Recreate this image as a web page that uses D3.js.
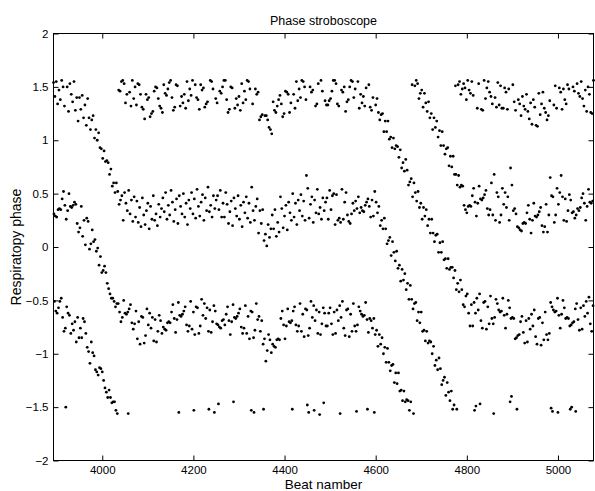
<!DOCTYPE html>
<html>
<head>
<meta charset="utf-8">
<script src="https://cdn.jsdelivr.net/npm/d3@7"></script>
<style>
  body { margin: 0; background: #fff; }
  text { font-family: "Liberation Sans", Arial, Helvetica, sans-serif; fill: #000; }
</style>
</head>
<body>
<svg id="chart" width="595" height="491"></svg>
<script>
// beats are read 3 apart on each stroboscope line: A = 3893, 3896, ...; B = 3894, ...; C = 3895, ...
var firstBeat = 3893;
var beatStep = 3;

var phaseA = [
  1.54, 1.41, 1.55, 1.34, 1.47, 1.38, 1.56, 1.50, 1.32, -1.50,
  1.50, 1.27, 1.53, 1.43, 1.36, 1.55, 1.28, 1.40, 1.18, 1.40,
  1.29, 1.42, 1.21, 1.33, 1.14, 1.39, 1.21, 1.10, 1.19, 1.23,
  1.02, 1.10, 1.00, 1.07, 0.93, 0.92, 0.83, 0.90, 0.80, 0.81,
  0.79, 0.68, 0.73, 0.57, 0.60, 0.51, 0.60, 0.52, 0.40, 0.44,
  0.48, 0.25, 0.51, 0.41, 0.34, 0.53, 0.31, 0.44, 0.24, 0.47,
  0.28, 0.43, 0.23, 0.37, 0.19, 0.46, 0.30, 0.21, 0.34, 0.41,
  0.17, 0.38, 0.26, 0.48, 0.25, 0.31, 0.20, 0.40, 0.28, 0.36,
  0.46, 0.33, 0.51, 0.26, 0.39, 0.30, 0.53, 0.42, 0.24, 0.35,
  0.45, 0.22, 0.48, 0.38, 0.31, 0.50, 0.28, 0.41, 0.21, 0.44,
  0.36, 0.51, 0.31, 0.45, 0.27, 0.54, 0.38, 0.29, 0.42, 0.49,
  0.25, 0.46, 0.34, 0.56, 0.33, 0.39, 0.28, 0.48, 0.36, 0.44,
  0.48, 0.35, 0.53, 0.28, 0.41, 0.28, 0.51, 0.40, 0.22, 0.33,
  0.43, 0.20, 0.46, 0.36, 0.29, 0.48, 0.26, 0.39, 0.19, 0.42,
  0.32, 0.47, 0.27, 0.41, 0.23, 0.56, 0.34, 0.25, 0.38, 0.45,
  0.13, 0.34, 0.22, 0.35, 0.06, 0.12, 0.01, 0.21, 0.09, 0.17,
  0.30, 0.17, 0.35, 0.10, 0.23, 0.14, 0.47, 0.36, 0.18, 0.29,
  0.39, 0.16, 0.42, 0.32, 0.25, 0.50, 0.28, 0.41, 0.21, 0.44,
  0.34, 0.49, 0.29, 0.43, 0.25, 0.67, 0.55, 0.27, 0.40, 0.47,
  0.23, 0.44, 0.32, 0.54, 0.31, 0.37, 0.26, 0.46, 0.34, 0.42,
  0.46, 0.26, 0.53, 0.35, 0.48, 0.50, 0.21, 0.49, 0.25, 0.27,
  0.23, 0.54, 0.26, 0.42, 0.51, 0.30, 0.24, 0.22, 0.31, 0.41,
  0.34, 0.43, 0.36, 0.47, 0.32, 0.37, 0.34, 0.33, 0.39, 0.42,
  0.45, 0.38, 0.28, 0.44, 0.29, 0.52,
  0.42, 0.32, 0.38, 0.20, 0.25, 0.17, 0.27, 0.17, 0.03, 0.06,
  0.09, -0.08, 0.05, -0.05, -0.13, -0.04, -0.20, -0.17, -0.32, -0.21,
  -0.31, -0.25, -0.40, -0.34, -0.49, -0.36, -0.49, -0.58, -0.53, -0.52,
  -0.69, -0.61, -0.71, -0.61, -0.79, -0.78, -0.88, -0.79, -0.90, -0.88,
  -0.89, -1.00, -0.93, -1.11, -1.06, -1.15, -1.04, -1.14, -1.29, -1.25,
  -1.22, -1.39, -1.27, -1.36, -1.44, -1.35, -1.52, -1.48, 1.51, -1.52,
  1.52, 1.55, 1.43, 1.48,
  1.53, 1.49, 1.38, 1.56, 1.47, 1.44, 1.55, 1.42, -1.53, -1.49,
  1.30, 1.53, -1.47, 1.29, 1.28, 1.56, 1.39, 1.49, 1.55, 1.45,
  1.41, 1.34, -1.56, 1.40, 1.31, 1.54, 1.33, 1.51, 1.30, 1.30,
  1.49, 1.45, 1.29, 1.48, -1.45, -1.40, 1.52, 1.36, 1.28, -1.52,
  1.38, 1.34, 1.23, 1.41, 1.32, 1.29, 1.43, 1.27, 1.20, 1.35,
  1.15, 1.38, 1.31, 1.14, 1.13, 1.44, 1.24, 1.34, 1.45, 1.30,
  1.26, 1.19, 1.23, 1.37, -1.51, -1.54, 1.33, 1.51, 1.30, -1.55,
  1.49, 1.45, 1.29, 1.48, 1.38, 1.34, 1.52, 1.48, -1.52, -1.50,
  1.50, 1.46, -1.54, 1.53, 1.44, 1.41, 1.55, 1.39, 1.32, 1.47,
  1.27, 1.50, 1.43, 1.26, 1.25, 1.56
];

var phaseB = [
  0.31, 0.29, 0.28, 0.35, 0.36, 0.35, 0.45, 0.52, 0.39, 0.26,
  0.34, 0.50, 0.38, 0.37, 0.39, 0.42, 0.40, 0.22, 0.14, 0.18,
  0.38, 0.10, 0.25, 0.02, 0.27, 0.24, -0.02, 0.03, 0.16, 0.05,
  0.07, -0.04, -0.01, -0.17, -0.09, -0.24, -0.22, -0.18, -0.24, -0.34,
  -0.39, -0.44, -0.48, -0.48, -0.51, -0.56, -0.53, -0.53, -0.61, -0.70,
  -0.66, -0.50, -0.62, -0.63, -0.61, -0.58, -0.54, -0.71, -0.77, -0.72,
  -0.60, -0.86, -0.70, -0.91, -0.65, -0.66, -0.90, -0.83, -0.58, -0.73,
  -0.62, -0.76, -0.66, -0.88, -0.68, -0.89, -0.79, -0.64, -0.69, -0.81,
  -0.75, -0.77, -0.78, -0.71, -0.70, -0.71, -0.61, -0.54, -0.67, -0.80,
  -0.68, -0.52, -0.64, -0.65, -0.63, -0.60, -0.56, -0.73, -0.79, -0.74,
  -0.51, -0.77, -0.61, -0.82, -0.56, -0.57, -0.81, -0.74, -0.49, -0.64,
  -0.53, -0.67, -0.57, -0.79, -0.59, -0.80, -0.70, -0.55, -0.60, -0.72,
  -0.73, -0.75, -0.76, -0.69, -0.68, -0.73, -0.63, -0.56, -0.69, -0.82,
  -0.70, -0.54, -0.66, -0.67, -0.65, -0.62, -0.58, -0.75, -0.81, -0.76,
  -0.55, -0.81, -0.65, -0.86, -0.60, -0.61, -0.85, -0.78, -0.53, -0.68,
  -0.65, -0.79, -0.69, -0.91, -0.86, -1.07, -0.97, -0.82, -0.87, -0.99,
  -0.91, -0.93, -0.94, -0.87, -0.86, -0.87, -0.67, -0.60, -0.73, -0.86,
  -0.74, -0.58, -0.70, -0.71, -0.69, -0.60, -0.56, -0.73, -0.79, -0.74,
  -0.53, -0.79, -0.63, -0.84, -0.58, -0.59, -0.83, -0.76, -0.51, -0.66,
  -0.55, -0.69, -0.59, -0.81, -0.61, -0.82, -0.72, -0.57, -0.62, -0.74,
  -0.74, -0.62, -0.57, -0.72, -0.82, -0.61, -0.81, -0.59, -0.69, -0.55,
  -0.66, -0.51, -0.76, -0.83, -0.59, -0.58, -0.84, -0.63, -0.79, -0.53,
  -0.74, -0.79, -0.73, -0.56, -0.60, -0.63, -0.65, -0.64, -0.52, -0.68,
  -0.80, -0.67, -0.69, -0.76, -0.67, -0.82, -0.78, -0.93, -0.82, -0.91,
  -0.85, -1.00, -0.94, -1.08, -0.95, -1.08, -1.16, -1.11, -1.10, -1.27,
  -1.18, -1.28, -1.18, -1.35, -1.34, -1.44, -1.35, -1.45, -1.43, -1.44,
  -1.53, -1.45, 1.52, -1.56, 1.51, 1.56, 1.53, 1.39, 1.44, 1.47,
  1.31, 1.44, 1.35, 1.27, 1.36, 1.21, 1.25, 1.10, 1.21, 1.12,
  1.18, 1.03, 1.09, 0.95, 1.08, 0.95, 0.87, 0.92, 0.93, 0.76,
  0.85, 0.75, 0.85, 0.68, 0.68, 0.58, 0.67, 0.56, 0.58, 0.57,
  0.39, 0.35, 0.32, 0.38, 0.39, 0.38, 0.48, 0.55, 0.42, 0.29,
  0.41, 0.57, 0.45, 0.44, 0.46, 0.49, 0.53, 0.36, 0.30, 0.35,
  0.60, 0.30, 0.68, 0.25, 0.51, 0.47, 0.23, 0.30, 0.55, 0.40,
  0.51, 0.37, 0.47, 0.25, 0.74, 0.58, 0.34, 0.36, 0.31, 0.19,
  0.18, 0.16, 0.15, 0.22, 0.23, 0.22, 0.32, 0.39, 0.26, 0.13,
  0.25, 0.41, 0.29, 0.28, 0.30, 0.33, 0.37, 0.20, 0.14, 0.19,
  0.40, 0.14, 0.30, 0.65, 0.48, 0.47, 0.23, 0.30, 0.55, 0.40,
  0.51, 0.67, 0.47, 0.25, 0.45, 0.24, 0.34, 0.49, 0.44, 0.32,
  0.33, 0.27, 0.30, 0.36, 0.34, 0.37, 0.46, 0.50, 0.41, 0.25,
  0.38, 0.54, 0.42, 0.41, 0.43
];

var phaseC = [
  -0.51, -0.60, -0.62, -0.57, -0.51, -0.48, -0.66, -0.79, -0.76, -0.56,
  -0.62, -0.64, -0.81, -0.72, -0.78, -0.70, -0.89, -0.66, -0.85, -0.76,
  -0.85, -0.67, -0.70, -0.81, -0.94, -0.98, -1.09, -0.89, -0.99, -1.02,
  -1.15, -1.17, -1.20, -1.13, -1.14, -1.17, -1.25, -1.32, -1.36, -1.41,
  -1.34, -1.41, -1.46, -1.45, -1.45, -1.53, -1.56, 1.47, 1.46, 1.55,
  1.56, 1.53, 1.35, 1.43, -1.56, 1.45, 1.32, 1.56, 1.39, 1.50,
  1.33, 1.53, 1.52, 1.43, 1.31, 1.29, 1.20, 1.43, 1.38, 1.40,
  1.22, 1.25, 1.27, 1.46, 1.50, 1.49, 1.39, 1.32, 1.30, 1.26,
  1.52, 1.44, 1.42, 1.48, 1.54, 1.56, 1.40, 1.28, 1.31, 1.52,
  1.51, -1.55, 1.32, 1.41, 1.35, 1.43, 1.30, 1.55, 1.37, 1.48,
  1.42, 1.56, -1.53, 1.52, 1.40, 1.38, 1.29, 1.52, 1.47, 1.49,
  1.31, 1.34, 1.36, -1.52, 1.56, 1.55, 1.48, -1.55, 1.39, 1.35,
  -1.47, 1.46, 1.44, 1.50, 1.56, 1.56, 1.38, 1.26, 1.29, 1.50,
  1.49, -1.45, 1.30, 1.39, 1.33, 1.41, 1.28, 1.53, 1.35, 1.46,
  1.38, 1.56, 1.55, 1.48, -1.53, 1.34, -1.55, 1.48, 1.43, 1.45,
  1.19, 1.22, 1.24, -1.52, 1.23, 1.23, 1.19, 1.12, 1.10, 1.06,
  1.36, 1.28, 1.26, 1.32, 1.38, 1.42, 1.34, 1.22, 1.25, 1.46,
  1.45, 1.43, 1.26, 1.35, -1.52, 1.43, 1.30, 1.55, 1.37, 1.48,
  1.40, 1.56, 1.55, 1.50, 1.38, -1.48, -1.55, 1.50, 1.45, 1.47,
  -1.53, 1.32, 1.34, 1.53, -1.57, 1.56, 1.46, -1.46, 1.37, 1.33,
  1.33, 1.37, 1.39, 1.46, 1.56, 1.56, 1.53, 1.34, 1.32, -1.56,
  1.47, 1.45, 1.50, 1.27, 1.36, 1.38, 1.50, 1.56, 1.55, 1.40,
  1.48, -1.54, 1.55, 1.30, 1.43, 1.35, 1.41, 1.32, 1.49, -1.52,
  1.52, 1.31, 1.28, 1.40, -1.55, 1.33,
  1.39, 1.26, 1.19, 1.24, 1.25, 1.08, 1.18, 1.08, 1.18, 1.01,
  1.03, 0.93, 1.02, 0.92, 0.95, 0.94, 0.84, 0.91, 0.74, 0.79,
  0.71, 0.82, 0.72, 0.58, 0.61, 0.64, 0.47, 0.60, 0.51, 0.43,
  0.52, 0.37, 0.41, 0.26, 0.37, 0.29, 0.35, 0.20, 0.26, 0.13,
  0.26, 0.13, 0.05, 0.11, 0.12, -0.05, 0.04, -0.05, 0.05, -0.12,
  -0.11, -0.20, -0.11, -0.21, -0.19, -0.19, -0.29, -0.22, -0.40, -0.34,
  -0.42, -0.31, -0.40, -0.54,
  -0.56, -0.46, -0.44, -0.62, -0.74, -0.54, -0.74, -0.52, -0.62, -0.48,
  -0.59, -0.44, -0.69, -0.76, -0.52, -0.51, -0.77, -0.56, -0.72, -0.46,
  -0.67, -0.72, -0.66, -0.49, -0.53, -0.59, -0.61, -0.60, -0.48, -0.64,
  -0.76, -0.63, -0.50, -0.57, -0.67, -0.66, -0.67, -0.86, -0.85, -0.83,
  -0.82, -0.70, -0.65, -0.80, -0.90, -0.69, -0.89, -0.67, -0.77, -0.63,
  -0.74, -0.59, -0.84, -0.91, -0.67, -0.66, -0.92, -0.71, -0.87, -0.61,
  -0.82, -0.87, -0.81, -0.52, -0.56, -0.59, -0.61, -0.60, -0.48, -0.64,
  -0.76, -0.63, -0.50, -0.57, -0.67, -0.66, -0.67, -0.74, -0.73, -0.71,
  -0.70, -0.58, -0.53, -0.68, -0.78, -0.57, -0.77, -0.55, -0.65, -0.51,
  -0.62, -0.47, -0.72, -0.79, -0.55
];

var xTicks = [4000, 4200, 4400, 4600, 4800, 5000];
var yTicks = [-2, -1.5, -1, -0.5, 0, 0.5, 1, 1.5, 2];
var beatRange = [3893, 5078];
var phaseRange = [-2, 2];

var width = 595, height = 491;
var margin = {top: 33.5, right: 1.5, bottom: 30.5, left: 53.5};
var plotW = width - margin.left - margin.right;
var plotH = height - margin.top - margin.bottom;

var svg = d3.select("#chart");
svg.append("rect").attr("width", width).attr("height", height).attr("fill", "#fff");

var x = d3.scaleLinear().domain(beatRange).range([0, plotW]);
var y = d3.scaleLinear().domain(phaseRange).range([plotH, 0]);

var g = svg.append("g").attr("transform", "translate(" + margin.left + "," + margin.top + ")");

// one point per beat, the three lines interleave
var points = [];
[phaseA, phaseB, phaseC].forEach(function(arr, j) {
    arr.forEach(function(v, i) {
        points.push({beat: firstBeat + j + i * beatStep, phase: v});
    });
});

g.selectAll("circle.pt")
    .data(points)
    .enter()
    .append("circle")
    .attr("class", "pt")
    .attr("cx", function(d) { return x(d.beat); })
    .attr("cy", function(d) { return y(d.phase); })
    .attr("r", 1.4)
    .attr("fill", "#000");

// axes, ticks point inwards like matlab
var xAxis = d3.axisBottom(x).tickValues(xTicks).tickFormat(d3.format("d"))
    .tickSizeInner(-5).tickSizeOuter(0).tickPadding(5);
var yAxis = d3.axisLeft(y).tickValues(yTicks).tickFormat(d3.format(""))
    .tickSizeInner(-5).tickSizeOuter(0).tickPadding(5);

var gx = g.append("g").attr("transform", "translate(0," + plotH + ")").call(xAxis);
var gy = g.append("g").call(yAxis);

g.append("g").call(d3.axisTop(x).tickValues(xTicks).tickFormat("").tickSizeInner(-5).tickSizeOuter(0));
g.append("g").attr("transform", "translate(" + plotW + ",0)")
    .call(d3.axisRight(y).tickValues(yTicks).tickFormat("").tickSizeInner(-5).tickSizeOuter(0));

g.selectAll(".domain").remove();
g.selectAll(".tick line").attr("stroke", "#000");
gx.selectAll("text").attr("font-size", 11.5).attr("font-family", "Liberation Sans, Arial, sans-serif");
gy.selectAll("text").attr("font-size", 11.5).attr("font-family", "Liberation Sans, Arial, sans-serif");

g.append("rect")
    .attr("width", plotW).attr("height", plotH)
    .attr("fill", "none").attr("stroke", "#000").attr("stroke-width", 1);

svg.append("text")
    .attr("x", margin.left + plotW / 2).attr("y", 25)
    .attr("text-anchor", "middle").attr("font-size", 12.5)
    .text("Phase stroboscope");

svg.append("text")
    .attr("x", margin.left + plotW / 2).attr("y", 489)
    .attr("text-anchor", "middle").attr("font-size", 13.5)
    .text("Beat namber");

svg.append("text")
    .attr("transform", "translate(21," + (margin.top + plotH / 2) + ") rotate(-90)")
    .attr("text-anchor", "middle").attr("font-size", 14)
    .text("Respiratopy phase");
</script>
</body>
</html>
